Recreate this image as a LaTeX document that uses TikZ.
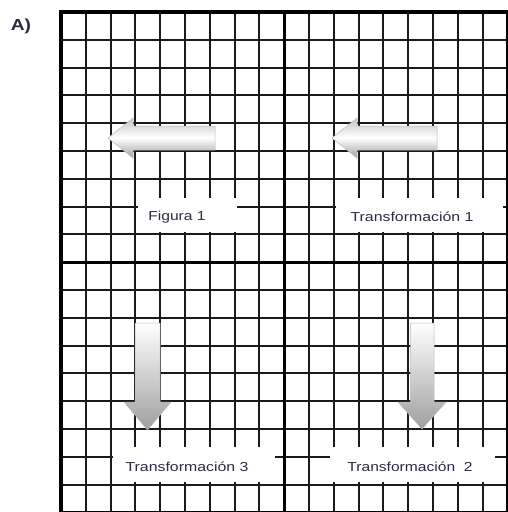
\documentclass[tikz,border=0pt]{standalone}
\usepackage{fontspec}
\setmainfont{Liberation Sans}
\usepackage{graphicx}
\definecolor{textcol}{HTML}{2B2B45}
\definecolor{gridcol}{HTML}{1A1A1A}
\begin{document}
\begin{tikzpicture}[x=1pt,y=-1pt,
  gridline/.style={line width=2.1pt, draw=gridcol},
  thickline/.style={line width=3.2pt, draw=black},
  labelbox/.style={fill=white, draw=none},
  labeltext/.style={font=\fontsize{13}{15}\selectfont, text=textcol, inner sep=0pt},
  harrow/.style={top color=gray!45, bottom color=gray!75, middle color=white, draw=gray!55, line width=0.5pt},
  varrow/.style={top color=white, bottom color=gray!75, draw=gray!55, line width=0.5pt}]
\useasboundingbox (0,0) rectangle (508,512);
\clip (0,0) rectangle (508,512);
% grid
\foreach \i in {0,...,18} \draw[gridline] ({61+24.8*\i},12) -- ({61+24.8*\i},513);
\foreach \j in {0,...,18} \draw[gridline] (61,{12+27.8*\j}) -- (507.4,{12+27.8*\j});
\draw[thickline] (61,12) rectangle (507.4,512.4);
\draw[thickline] (284.2,12) -- (284.2,513);
\draw[thickline] (61,262.2) -- (507.4,262.2);
% label boxes
\fill[labelbox] (137.5,198) rectangle (236.5,232);
\fill[labelbox] (336,198) rectangle (503,232);
\fill[labelbox] (112.5,447) rectangle (275,482);
\fill[labelbox] (330,447) rectangle (495,482);
% arrows
\path[harrow] (108,138) -- (133,118) -- (133,126) -- (215,126) -- (215,150) -- (133,150) -- (133,158) -- cycle;
\path[harrow] (332,138) -- (357,118) -- (357,126) -- (437,126) -- (437,150) -- (357,150) -- (357,158) -- cycle;
\path[varrow] (147.5,430) -- (124,402) -- (135,402) -- (135,323) -- (160,323) -- (160,402) -- (171,402) -- cycle;
\path[varrow] (422,429) -- (398,402) -- (410.5,402) -- (410.5,323) -- (434,323) -- (434,402) -- (446,402) -- cycle;
% texts
\node[labeltext] (fig1) at (177,217) {\scalebox{1.2}[1]{Figura 1}};
\node[labeltext] (t1) at (412,217) {\scalebox{1.22}[1]{Transformación 1}};
\node[labeltext] (t3) at (187,466.5) {\scalebox{1.22}[1]{Transformación 3}};
\node[labeltext] (t2) at (410,466.5) {\scalebox{1.2}[1]{Transformación\ \ 2}};
\node[inner sep=0pt, text=textcol, font=\bfseries\fontsize{16}{18}\selectfont] (lblA) at (21,26) {\scalebox{1.2}[1]{A)}};
\end{tikzpicture}
\end{document}
